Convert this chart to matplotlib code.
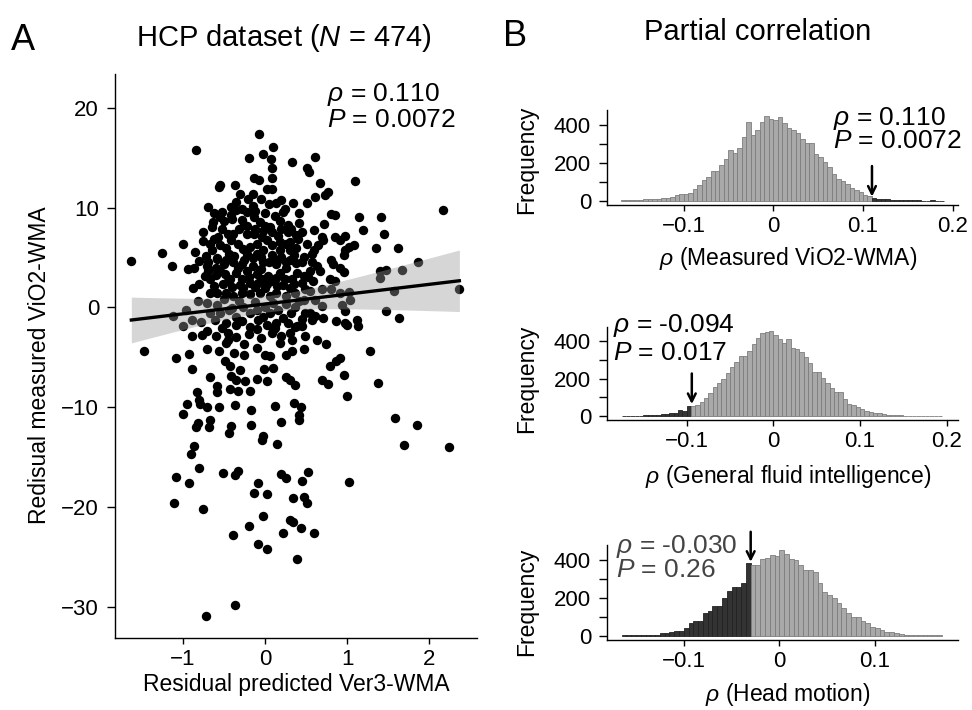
import matplotlib
matplotlib.use("Agg")
import matplotlib.pyplot as plt
import numpy as np

plt.rcParams["font.family"] = ["Liberation Sans", "DejaVu Sans"]
plt.rcParams["mathtext.fontset"] = "custom"
plt.rcParams["mathtext.rm"] = "Liberation Sans"
plt.rcParams["mathtext.it"] = "Liberation Sans:italic"

# ---- panel A: residual scatter ----
pred_resid = [
    -0.07, -0.84, 0.10, -0.02, 0.07, -0.20, 0.33, 0.09, 0.51, -0.14,
    -0.07, 0.08, -0.55, -0.56, -0.37, 0.02, 0.09, -0.30, -0.15, -0.21,
    -0.69, -0.42, -0.35, -0.28, -0.22, 0.14, 0.20, 0.22, 0.34, 0.51,
    -0.28, -0.14, -0.06, 0.06, -0.63, -0.65, -0.75, 0.42, 0.45, -0.45,
    -0.39, -0.22, -0.14, -0.04, 0.16, -0.76, -0.67, -0.57, -0.55, -1.00,
    -0.33, -0.18, -0.10, 0.09, 0.51, -1.25, -1.63, -1.13, -0.94, -0.87,
    -0.88, -0.69, -0.71, -0.59, -0.65, -0.44, -0.39, -0.28, -0.22, -0.10,
    -0.02, 0.08, 0.18, 0.20, 0.30, 0.30, 0.48, 0.47, -0.73, -0.67,
    -0.55, -0.49, -0.43, -0.51, -0.35, -0.28, -0.22, -0.18, -0.10, -0.04,
    0.04, 0.10, 0.18, 0.24, 0.33, 0.39, -0.67, -0.59, -0.47, -0.39,
    -0.28, -0.18, -0.06, 0.06, 0.14, 0.26, 0.37, 0.49, -1.12, -0.96,
    -0.89, -0.71, -0.67, -0.55, -0.61, -0.44, -0.35, -0.27, -0.18, -0.10,
    -0.02, 0.06, 0.16, 0.22, 0.32, 0.37, 0.49, -0.47, -0.35, -0.18,
    0.02, 0.14, 0.37,
    0.61, 0.54, 0.67, 1.10, 0.61, 0.73, 0.77, 0.81, 0.85, 1.15,
    1.41, 2.17, 0.60, 0.72, 1.19, 1.45, 0.69, 0.71, 0.85, 0.98,
    0.91, 0.65, 1.08, 1.35, 1.62, 0.57, 0.98, 1.02, 0.96, 0.81,
    0.83, 0.91, 0.96, 0.57, 0.63, 0.67, 1.86, 0.79, 0.85, 0.81,
    1.40, 1.48, 1.40, 1.67, 2.37, 0.55, 0.69, 0.91, 1.02, 1.57,
    0.47, 0.61, 0.69, 0.94, 1.04, 1.48, 0.55, 0.61, 0.71, 0.87,
    0.98, 0.98, 1.63, 1.12,
    -1.00, -0.89, -0.77, -0.71, -1.48, -1.09, -0.93, -0.71, -0.56, -0.47,
    -0.45, -0.38, -0.26, -0.26, -0.10, 0.00, 0.06, 0.18, 0.26, 0.33,
    0.47, -0.89, -0.67, -0.59, -0.59, -0.49, -0.43, -0.41, -0.35, -0.30,
    -0.24, -0.43, -0.33, -0.18, -0.10, -0.01, 0.03, 0.10, 0.26, 0.30,
    0.37, -0.83, -0.81, -0.95, -1.00, -0.79, -0.71, -0.56, -0.37, -0.17,
    0.12, 0.35, 0.44, -0.82, -0.84, -0.67, -0.68, -0.41, -0.44, -0.17,
    0.19, 0.42, 0.42, -0.02, -0.04, 0.15, -0.87, -0.90, -0.81, -1.09,
    -0.93, -0.51, -0.37, -0.33, -0.08, -0.14, 0.02, 0.20, 0.25, 0.45,
    0.52, -1.11, -0.75, -0.39, -0.20, -0.03, -0.09, 0.03, 0.22, 0.30,
    0.34, 0.44, 0.34, 0.47, 0.51, 0.39, -0.36, -0.72,
    0.57, 1.00, 1.14, 0.39, 0.45, 0.49, 0.63, 0.74, 0.30, 1.28,
    0.79, 0.87, 0.91, 0.96, 0.69, 0.77, 1.38, 1.00, 1.58, 1.85,
    1.70, 2.24, 1.03, 0.60,
    -0.60, -0.45, -0.35, -0.20, -0.05, 0.08, 0.20, 0.33, -0.10, 0.12,
    -0.78, -0.52, -0.28, -0.08, 0.10, 0.28, 0.45, -0.82, -0.58, -0.40,
    -0.32, -0.12, 0.00, 0.10, 0.26, 0.42, -0.50, -0.80, -0.62, -0.40,
    -0.27, -0.12, 0.00, 0.15, 0.30, 0.45, 0.58, -0.80, -0.60, -0.50,
    -0.33, -0.15, -0.05, 0.13, 0.25, 0.38, 0.55, -0.85, -0.47, -0.27,
    -0.03, 0.02, 0.25, 0.38, 0.40, 0.60, -0.50, -0.40, 0.18, 0.28,
    0.00, -0.52,
    -0.72, -0.62, -0.52, -0.42, -0.32, -0.22, -0.12, -0.02, 0.08, 0.18,
    0.28, 0.38, -0.58, -0.48, -0.38, -0.25, -0.15, -0.05, 0.05, 0.15,
    0.25, 0.35, 0.45, -0.70, -0.60, -0.45, -0.30, -0.20, -0.08, 0.03,
    0.13, 0.22, 0.35, 0.52, -0.55, -0.42, -0.25, -0.12, 0.00, 0.12,
    0.24, 0.32, -0.62, -0.35, -0.15, 0.05, 0.20, 0.30, -0.05, 0.42,
]
meas_resid = [
    17.4, 15.8, 16.1, 15.4, 14.9, 15.0, 14.6, 14.0, 14.0, 13.0,
    12.8, 13.0, 12.3, 12.1, 12.3, 11.9, 11.9, 11.4, 11.4, 10.9,
    10.1, 10.1, 9.8, 9.9, 9.6, 10.5, 10.8, 9.6, 10.5, 10.5,
    8.8, 9.1, 8.6, 8.1, 8.6, 8.1, 7.6, 8.5, 7.6, 7.4,
    7.4, 7.4, 7.4, 7.1, 7.2, 6.7, 6.4, 7.1, 6.3, 6.4,
    6.4, 6.1, 6.4, 6.3, 6.4, 5.5, 4.7, 4.1, 3.8, 3.9,
    1.9, 4.6, 4.1, 4.9, 5.8, 5.4, 4.5, 4.3, 5.4, 5.4,
    4.6, 5.3, 5.8, 5.1, 5.8, 4.8, 5.1, 3.1, 3.1, 2.8,
    3.6, 3.3, 2.8, 2.3, 3.4, 2.8, 3.6, 2.4, 3.3, 2.8,
    3.1, 2.6, 3.4, 2.8, 2.8, 3.4, 1.4, 1.4, 1.4, 1.1,
    1.4, 1.3, 1.4, 1.1, 1.4, 1.1, 1.4, 1.8, -0.9, -0.25,
    -1.25, 0.4, -0.6, -0.6, -1.25, -0.25, -0.92, 0.08, -0.58, -0.25,
    -0.92, -0.58, -0.25, -1.08, -0.58, 0.08, -0.58, -1.59, -1.75, -1.92,
    -1.75, -1.59, -1.92,
    15.1, 13.6, 12.5, 12.7, 11.1, 11.3, 11.6, 9.4, 9.3, 9.1,
    9.1, 9.8, 7.8, 8.4, 7.8, 7.4, 7.1, 6.8, 7.1, 7.2,
    6.8, 6.3, 6.3, 6.0, 6.0, 5.4, 5.8, 6.1, 5.3, 4.8,
    4.3, 3.9, 3.5, 4.6, 4.1, 3.6, 4.6, 2.8, 2.6, 1.8,
    3.6, 3.7, 2.9, 3.7, 1.8, 1.6, 1.8, 1.4, 1.5, 1.6,
    0.75, 0.75, 0.1, 0.25, 0.75, -0.4, -0.6, -0.9, -1.1, -1.4,
    -0.4, -1.6, -1.1, -1.25,
    -1.9, -2.9, -2.8, -2.4, -4.4, -5.1, -4.7, -4.2, -4.4, -3.6,
    -3.3, -4.6, -3.7, -4.8, -4.1, -4.8, -4.9, -3.6, -4.8, -4.4,
    -4.2, -6.2, -7.0, -7.9, -8.5, -5.4, -5.9, -6.9, -7.3, -6.3,
    -7.4, -8.2, -8.4, -8.4, -7.2, -6.2, -7.4, -6.1, -7.0, -7.3,
    -7.8, -8.5, -9.3, -9.7, -10.7, -9.7, -10.0, -10.0, -9.8, -10.3,
    -9.9, -9.6, -10.0, -11.6, -12.0, -11.3, -12.0, -11.9, -12.6, -11.8,
    -11.5, -10.8, -11.3, -12.9, -13.3, -13.7, -13.9, -14.7, -16.1, -17.0,
    -17.6, -16.6, -16.8, -16.4, -17.6, -18.6, -18.7, -16.7, -17.1, -17.4,
    -16.5, -19.6, -20.2, -22.8, -21.9, -20.9, -23.7, -24.2, -22.6, -21.3,
    -21.5, -22.1, -19.1, -19.0, -19.6, -25.2, -29.8, -30.9,
    -1.25, -1.75, -1.9, -1.9, -1.9, -2.9, -3.3, -3.7, -2.6, -4.4,
    -5.9, -5.4, -5.1, -6.8, -7.3, -7.7, -7.6, -8.9, -11.1, -11.8,
    -13.8, -14.0, -17.5, -22.6,
    -2.9, -2.6, -3.0, -2.7, -3.1, -2.6, -2.9, -3.3, -2.2, -2.1,
    -1.5, -2.1, -1.4, -1.3, -2.3, -1.6, -1.2, 0.6, 0.2, -0.1,
    0.6, 0.5, 0.0, 0.4, 0.3, 0.6, 0.8, 2.3, 2.1, 2.0,
    1.9, 2.0, 1.9, 2.1, 1.9, 2.4, 2.6, 4.7, 3.9, 4.3,
    3.9, 4.1, 3.8, 4.3, 3.9, 4.4, 3.6, 5.6, 6.0, 5.9,
    5.8, 6.8, 6.4, 6.0, 6.9, 5.8, 8.7, 8.9, 8.7, 8.3,
    9.5, 9.6,
    5.2, 6.9, 7.9, 6.8, 7.9, 8.2, 7.9, 7.7, 7.6, 6.6,
    7.6, 7.3, 5.0, 4.8, 5.2, 4.8, 5.0, 5.1, 4.6, 4.7,
    4.5, 5.3, 4.6, 3.6, 3.2, 2.6, 2.2, 3.0, 2.4, 2.3,
    2.9, 2.2, 2.3, 3.0, 9.1, 9.3, 8.3, 9.7, 8.2, 9.2,
    9.9, 7.9, 9.5, 10.6, 10.2, 10.4, 7.9, 6.6, 10.9, 9.5,
]

# ---- panel B: permutation histograms (bin width 0.005) ----
bin_width = 0.005
measured_start = -0.170
measured_counts = [
    3, 3, 4, 4, 5, 8, 10, 8, 12, 14, 14, 20, 32, 38, 36, 40, 62, 82, 108, 126,
    158, 160, 190, 222, 266, 255, 280, 336, 415, 346, 372, 416, 447, 432, 425,
    440, 408, 382, 372, 360, 328, 307, 305, 250, 232, 205, 180, 142, 118, 105,
    92, 66, 56, 47, 32, 25, 18, 13, 10, 8, 6, 5, 6, 4, 7, 3, 3, 2, 2, 3, 2, 2,
]
fluid_start = -0.175
fluid_counts = [
    2, 2, 3, 3, 3, 4, 6, 6, 8, 9, 10, 15, 18, 30, 28, 56, 55, 58, 76, 94,
    124, 156, 174, 200, 231, 260, 290, 320, 322, 348, 384, 414, 444, 450, 453,
    432, 411, 388, 411, 361, 356, 343, 313, 281, 233, 236, 201, 174, 148, 130,
    128, 89, 64, 59, 50, 36, 28, 23, 14, 14, 9, 7, 5, 5, 4, 3, 3, 2, 2, 2, 1,
    1, 1, 1,
]
motion_start = -0.165
motion_counts = [
    2, 2, 2, 2, 2, 5, 5, 5, 12, 12, 19, 25, 26, 39, 65, 79, 79, 118, 132, 157,
    157, 197, 238, 259, 259, 280, 386, 374, 374, 404, 409, 427, 421, 452, 434,
    404, 400, 374, 350, 350, 338, 280, 233, 215, 197, 174, 144, 122, 100, 97,
    79, 65, 44, 39, 30, 21, 18, 12, 9, 5, 5, 4, 3, 2, 5, 2, 2,
]

observed_rho = [0.110, -0.094, -0.030]
p_values = ["0.0072", "0.017", "0.26"]
b_xlabels = ["Measured ViO2-WMA", "General fluid intelligence", "Head motion"]

W, H = 972, 710
fig = plt.figure(figsize=(W / 100, H / 100), dpi=100)


def box(left, top, right, bottom):
    return [left / W, 1 - bottom / H, (right - left) / W, (bottom - top) / H]


def style_axes(ax):
    for side in ("top", "right"):
        ax.spines[side].set_visible(False)
    for side in ("left", "bottom"):
        ax.spines[side].set_linewidth(1.0)
    ax.tick_params(direction="out", width=1.0, labelsize=16, colors="black")
    ax.tick_params(axis="x", length=4.5, pad=3.5)
    ax.tick_params(axis="y", length=5.5, pad=6)


# ---- A ----
ax = fig.add_axes(box(115, 74, 477, 638))
style_axes(ax)
x = np.array(pred_resid)
y = np.array(meas_resid)
ax.scatter(x, y, s=46, c="black", linewidths=0, zorder=2)

slope, intercept = np.polyfit(x, y, 1)
grid = np.linspace(x.min(), x.max(), 100)
fit = intercept + slope * grid
resid = y - (intercept + slope * x)
n = len(x)
s_err = np.sqrt(np.sum(resid ** 2) / (n - 2))
se = s_err * np.sqrt(1 / n + (grid - x.mean()) ** 2 / np.sum((x - x.mean()) ** 2))
ax.fill_between(grid, fit - 1.966 * se, fit + 1.966 * se, color="#999999",
                alpha=0.4, linewidth=0, zorder=3)
ax.plot(grid, fit, color="black", lw=2.4, zorder=4)

ax.set_xlim(-1.829, 2.585)
ax.set_ylim(-33.15, 23.4)
ax.set_xticks([-1, 0, 1, 2])
ax.set_yticks([-30, -20, -10, 0, 10, 20])
ax.text(0.756, 20.7, r"$\rho$ = 0.110", fontsize=19, ha="left", va="baseline")
ax.text(0.756, 18.1, r"$P$ = 0.0072", fontsize=19, ha="left", va="baseline")

fig.text(296 / W, 1 - 684 / H, "Residual predicted Ver3-WMA", fontsize=16.5,
         ha="center", va="center")
fig.text(40 / W, 1 - 365 / H, "Redisual measured ViO2-WMA", fontsize=16.5,
         ha="center", va="center", rotation=90)
fig.text(284 / W, 1 - 38 / H, r"HCP dataset ($N$ = 474)", fontsize=21,
         ha="center", va="center")
fig.text(11 / W, 1 - 41 / H, "A", fontsize=26, ha="left", va="center")
fig.text(503 / W, 1 - 37 / H, "B", fontsize=26, ha="left", va="center")
fig.text(758 / W, 1 - 32 / H, "Partial correlation", fontsize=21,
         ha="center", va="center")

# ---- B ----
panels = [
    dict(rect=(607, 110, 958, 205), start=measured_start, counts=measured_counts,
         xlim=(-0.1854, 0.2059), ylim=(-21, 479), xticks=[-0.1, 0, 0.1, 0.2],
         dark_right=True, arrow=(184, 23), txt=(0.0669, 400, 277), color="black",
         xlab_y=259, freq_y=160),
    dict(rect=(607, 327, 958, 420), start=fluid_start, counts=fluid_counts,
         xlim=(-0.1918, 0.213), ylim=(-21, 475), xticks=[-0.1, 0, 0.1, 0.2],
         dark_right=False, arrow=(227, 64), txt=(-0.1845, 448, 298), color="black",
         xlab_y=477, freq_y=379),
    dict(rect=(607, 545, 958, 640), start=motion_start, counts=motion_counts,
         xlim=(-0.1804, 0.187), ylim=(-23, 480), xticks=[-0.1, 0, 0.1],
         dark_right=False, arrow=(550, 391), txt=(-0.171, 436, 309), color="#444444",
         xlab_y=694, freq_y=602),
]

for i, p in enumerate(panels):
    axb = fig.add_axes(box(*p["rect"]))
    style_axes(axb)
    counts = np.array(p["counts"])
    edges = p["start"] + bin_width * np.arange(len(counts))
    centers = edges + bin_width / 2
    rho = observed_rho[i]
    if p["dark_right"]:
        dark = centers > rho
    else:
        dark = centers < rho
    fills = np.where(dark, "#333333", "#a9a9a9")
    lines = np.where(dark, "#222222", "#7d7d7d")
    axb.bar(edges, counts, width=bin_width, align="edge", color=fills,
            edgecolor=lines, linewidth=0.6)
    axb.set_xlim(*p["xlim"])
    axb.set_ylim(*p["ylim"])
    axb.set_xticks(p["xticks"])
    axb.set_xticklabels(["\u22120.1" if t < 0 else ("0" if t == 0 else f"{t:g}")
                         for t in p["xticks"]])
    axb.set_yticks([0, 100, 200, 300, 400])
    axb.set_yticklabels(["0", "", "200", "", "400"])
    top, tip = p["arrow"]
    axb.annotate("", xy=(rho, tip), xytext=(rho, top), annotation_clip=False,
                 arrowprops=dict(arrowstyle="->", lw=1.8, color="black",
                                 mutation_scale=14, shrinkA=0, shrinkB=0))
    tx, ty1, ty2 = p["txt"]
    axb.text(tx, ty1, rf"$\rho$ = {rho:.3f}", fontsize=19,
             ha="left", va="baseline", color=p["color"], clip_on=False)
    axb.text(tx, ty2, rf"$P$ = {p_values[i]}", fontsize=19, ha="left",
             va="baseline", color=p["color"], clip_on=False)
    fig.text(788 / W, 1 - p["xlab_y"] / H, rf"$\rho$ ({b_xlabels[i]})",
             fontsize=16.5, ha="center", va="center")
    fig.text(527 / W, 1 - p["freq_y"] / H, "Frequency", fontsize=16.5,
             ha="center", va="center", rotation=90)

fig.savefig("out.png", dpi=100)
